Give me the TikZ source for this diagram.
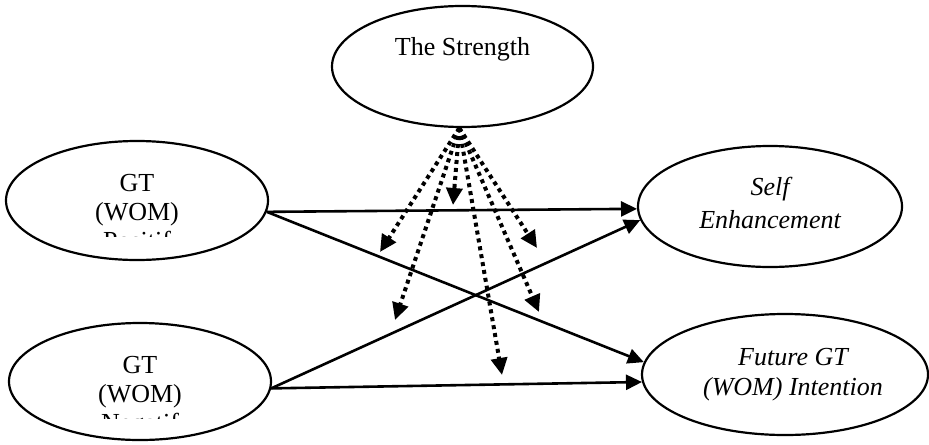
\documentclass[tikz,border=0pt]{standalone}
\usepackage{fontspec}
\setmainfont{Liberation Serif}
\usetikzlibrary{shapes.geometric,arrows.meta}
\begin{document}
\begin{tikzpicture}[x=0.5pt,y=-0.5pt,
  oval/.style={draw,ellipse,line width=1.1pt,inner sep=0pt},
  lbl/.style={anchor=base,inner sep=0pt,font=\fontsize{13}{14.5}\selectfont},
  effect/.style={line width=1.3pt,-{Triangle[length=8pt,width=7.5pt]}},
  moder/.style={line width=2pt,dash pattern=on 2pt off 2pt,-{Triangle[length=8.5pt,width=8pt]}}]
\useasboundingbox (0,0) rectangle (929,444);

% constructs
\node[oval,minimum width=130.5pt,minimum height=60.5pt] (strength) at (462.5,66.5) {};
\node[oval,minimum width=131pt,minimum height=59.5pt] (pos) at (137,200.5) {};
\node[oval,minimum width=131pt,minimum height=58.5pt] (neg) at (140,381.5) {};
\node[oval,minimum width=132pt,minimum height=60.5pt] (self) at (770,206.5) {};
\node[oval,minimum width=143pt,minimum height=60.5pt] (future) at (785,374.5) {};

% labels
\node[lbl] (strengthA) at (462.5,55) {The Strength};
\node[lbl] (posA) at (137,191) {GT};
\node[lbl] (posB) at (137,220) {(WOM)};
\begin{scope}
  \clip (0,0) rectangle (929,236);
  \node[lbl] (posC) at (137,249) {Positif};
\end{scope}
\node[lbl] (negA) at (140,373) {GT};
\node[lbl] (negB) at (140,402) {(WOM)};
\begin{scope}
  \clip (0,0) rectangle (929,418);
  \node[lbl] (negC) at (140,431) {Negatif};
\end{scope}
\node[lbl,font=\fontsize{13}{14.5}\selectfont\itshape] (selfA) at (770,195) {Self};
\node[lbl,font=\fontsize{13}{14.5}\selectfont\itshape] (selfB) at (770,228) {Enhancement};
\node[lbl,font=\fontsize{13}{14.5}\selectfont\itshape] (futureA) at (793,365) {Future GT};
\node[lbl,font=\fontsize{13}{14.5}\selectfont\itshape] (futureB) at (793,395) {(WOM) Intention};

% direct effects
\draw[effect] (pos.-5) -- (self.181);
\draw[effect] (pos.-5) -- (future.175);
\draw[effect] (neg.-3) -- (self.186);
\draw[effect] (neg.-3) -- (future.183.5);

% moderating effects
\coordinate (m1) at (380,252);
\coordinate (m2) at (453,205);
\coordinate (m3) at (537,248);
\coordinate (m4) at (395,320);
\coordinate (m5) at (539,312);
\coordinate (m6) at (502,375);
\foreach \m in {m1,m2,m3,m4,m5,m6}
  \draw[moder] (strength.-93) -- (\m);
\end{tikzpicture}
\end{document}
